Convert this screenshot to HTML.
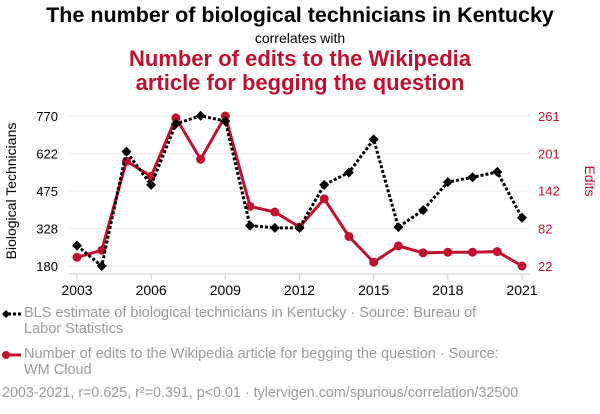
<!DOCTYPE html>
<html><head><meta charset="utf-8"><style>
body{margin:0;width:600px;height:414px;background:#fff;font-family:"Liberation Sans",sans-serif;overflow:hidden;position:relative}
.t{position:absolute;white-space:nowrap}
</style></head><body>
<div class="t" style="left:0;width:600px;text-align:center;top:3px;font-size:21.5px;font-weight:bold;color:#000">The number of biological technicians in Kentucky</div>
<div class="t" style="left:0;width:600px;text-align:center;top:30px;font-size:14px;color:#000">correlates with</div>
<div class="t" style="left:0;width:600px;text-align:center;top:47px;font-size:22px;line-height:24px;font-weight:bold;color:#c0112e">Number of edits to the Wikipedia<br>article for begging the question</div>
<svg width="600" height="414" style="position:absolute;left:0;top:0" id="chart"></svg>
<div class="t" style="left:2px;top:305px;font-size:14.5px;line-height:16px;color:#999">
<span style="display:inline-block;width:22px"></span>BLS estimate of biological technicians in Kentucky · Source: Bureau of<br><span style="display:inline-block;width:22px"></span>Labor Statistics</div>
<div class="t" style="left:2px;top:346px;font-size:14.5px;line-height:16px;color:#999">
<span style="display:inline-block;width:22px"></span>Number of edits to the Wikipedia article for begging the question · Source:<br><span style="display:inline-block;width:22px"></span>WM Cloud</div>
<div class="t" style="left:2px;top:385px;font-size:14.3px;color:#999">2003-2021, r=0.625, r²=0.391, p&lt;0.01 · tylervigen.com/spurious/correlation/32500</div>
<script>
const years=[2003,2004,2005,2006,2007,2008,2009,2010,2011,2012,2013,2014,2015,2016,2017,2018,2019,2020,2021];
const technicians=[260,180,630,499,739,771,750,339,330,330,499,548,678,333,400,510,529,550,370];
const edits=[36,47,189,165,258,192,261,117,108,84,129,69,28,54,43,44,44,45,22];
const leftTicks=[180,328,475,622,770];
const rightTicks=[22,82,142,201,261];
const xTicks=[2003,2006,2009,2012,2015,2018,2021];
const svg=document.getElementById('chart');const NS='http://www.w3.org/2000/svg';
function mk(t,a,p){const e=document.createElementNS(NS,t);for(const k in a)e.setAttribute(k,a[k]);(p||svg).appendChild(e);return e;}
const X=y=>77+(y-2003)*(522-77)/18;
const YL=v=>266-(v-180)*150/590;
const YR=v=>266-(v-22)*150/239;
leftTicks.forEach((v,i)=>{const g=mk('line',{x1:68,x2:530,y1:YL(v),y2:YL(v),stroke:'#eee','stroke-width':1});


const t=mk('text',{x:58,y:YL(v)+5,'text-anchor':'end','font-size':13,fill:'#000'});t.textContent=v;

});
rightTicks.forEach(v=>{const t=mk('text',{x:538,y:YR(v)+5,'font-size':13,fill:'#c0112e'});t.textContent=v;

});
const ax=mk('line',{x1:68,x2:530,y1:274,y2:274,stroke:'#ccc'});


xTicks.forEach(y=>{mk('line',{x1:X(y),x2:X(y),y1:274,y2:280,stroke:'#ccc'});
const t=mk('text',{x:X(y),y:295,'text-anchor':'middle','font-size':14,fill:'#000'});t.textContent=y;

});
const yl=mk('text',{transform:'translate(16,191) rotate(-90)','text-anchor':'middle','font-size':14,fill:'#000'});yl.textContent='Biological Technicians';


const yr=mk('text',{transform:'translate(585,181) rotate(90)','text-anchor':'middle','font-size':14,fill:'#c0112e'});yr.textContent='Edits';


const rl=mk('polyline',{points:years.map((y,i)=>X(y)+','+YR(edits[i])).join(' '),fill:'none',stroke:'#c0112e','stroke-width':3});


years.forEach((y,i)=>{const c=mk('circle',{cx:X(y),cy:YR(edits[i]),r:4.5,fill:'#c0112e'});

});
const bl=mk('polyline',{points:years.map((y,i)=>X(y)+','+YL(technicians[i])).join(' '),fill:'none',stroke:'#000','stroke-width':3,'stroke-dasharray':'3,2'});


years.forEach((y,i)=>{const x=X(y),v=YL(technicians[i]);const d=mk('polygon',{points:`${x},${v-5} ${x+5},${v} ${x},${v+5} ${x-5},${v}`,fill:'#000'});

});
mk('line',{x1:3,x2:21,y1:314,y2:314,stroke:'#000','stroke-width':3,'stroke-dasharray':'3,2'});
mk('polygon',{points:'6,310 10,314 6,318 2,314',fill:'#000'});
mk('line',{x1:3,x2:21,y1:355,y2:355,stroke:'#c0112e','stroke-width':3});
mk('circle',{cx:6,cy:355,r:4,fill:'#c0112e'});
</script>
</body></html>
